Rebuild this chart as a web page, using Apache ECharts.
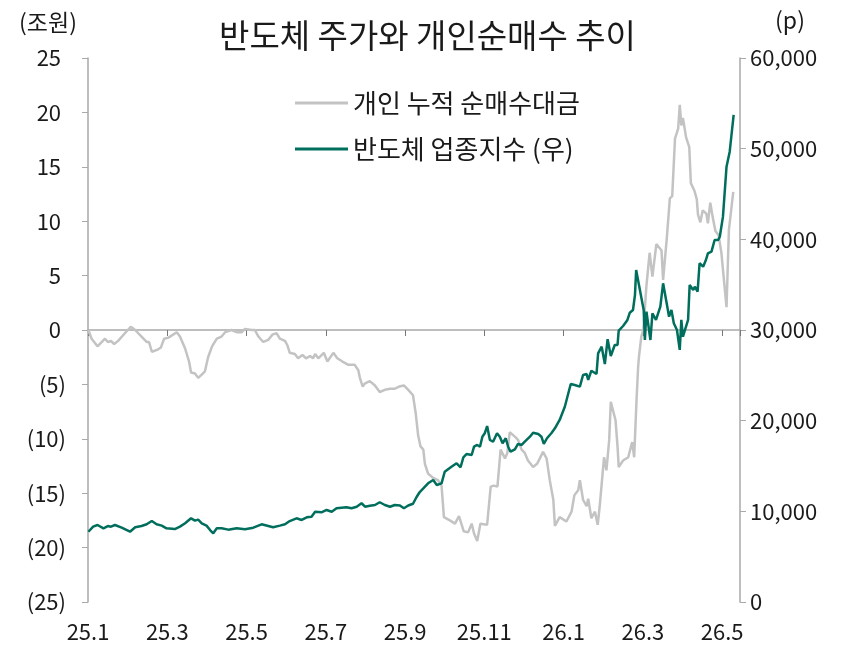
<!DOCTYPE html>
<html>
<head>
<meta charset="utf-8">
<script src="https://cdn.jsdelivr.net/npm/echarts@6/dist/echarts.min.js"></script>
<style>
  html, body { margin: 0; padding: 0; background: #fff; }
  #main { width: 855px; height: 645px; }
</style>
</head>
<body>
<div id="main"></div>
<script>
// 월 단위 위치 (0 = 25.1)
var grayMonth = [0.01, 0.09, 0.24, 0.35, 0.43, 0.50, 0.58, 0.66, 0.76, 0.93, 1.08, 1.19, 1.35, 1.48, 1.54, 1.61, 1.76, 1.84, 1.92, 2.03,
    2.24, 2.32, 2.45, 2.55, 2.60, 2.70, 2.78, 2.87, 2.95, 3.03, 3.13, 3.25, 3.37, 3.46, 3.62, 3.75, 3.88, 3.96, 4.13, 4.21,
    4.30, 4.42, 4.55, 4.66, 4.76, 4.84, 4.97, 5.03, 5.09, 5.22, 5.30, 5.41, 5.50, 5.60, 5.68, 5.73, 5.81, 5.95, 6.04, 6.19,
    6.29, 6.42, 6.57, 6.73, 6.82, 6.86, 6.93, 6.99, 7.11, 7.24, 7.36, 7.49, 7.62, 7.74, 7.85, 7.97, 8.08, 8.20, 8.27, 8.33,
    8.39, 8.46, 8.50, 8.58, 8.71, 8.83, 8.92, 8.98, 9.13, 9.26, 9.36, 9.48, 9.59, 9.68, 9.74, 9.82, 9.90, 10.07, 10.16, 10.24,
    10.33, 10.41, 10.52, 10.58, 10.64, 10.77, 10.85, 10.94, 11.02, 11.10, 11.23, 11.33, 11.40, 11.48, 11.57, 11.65, 11.74, 11.78, 11.90, 12.07,
    12.11, 12.20, 12.27, 12.37, 12.41, 12.49, 12.58, 12.62, 12.70, 12.79, 12.86, 12.91, 13.02, 13.08, 13.15, 13.19, 13.31, 13.36, 13.39, 13.50,
    13.63, 13.73, 13.78, 13.84, 13.88, 13.90, 13.96, 14.01, 14.09, 14.17, 14.24, 14.34, 14.47, 14.51, 14.60, 14.68, 14.74, 14.81, 14.89, 14.93,
    14.97, 15.01, 15.09, 15.17, 15.21, 15.30, 15.36, 15.39, 15.45, 15.51, 15.60, 15.64, 15.70, 15.76, 15.83, 15.91, 15.98, 16.11, 16.17, 16.28];
// 개인 누적 순매수대금 (조원)
var grayValue = [0.0, -0.8, -1.5, -1.1, -0.8, -1.1, -1.0, -1.3, -1.0, -0.3, 0.3, 0.0, -0.6, -1.1, -1.1, -2.0, -1.8, -1.6, -0.8, -0.7,
    -0.2, -0.6, -1.7, -2.9, -3.9, -4.0, -4.4, -4.1, -3.8, -2.5, -1.5, -0.8, -0.6, -0.2, 0.0, -0.2, -0.2, 0.1, 0.0, 0.0,
    -0.6, -1.1, -0.9, -0.4, -0.3, -0.8, -1.0, -1.4, -2.1, -2.2, -2.6, -2.3, -2.6, -2.4, -2.6, -2.2, -2.6, -2.1, -2.9, -2.1,
    -2.6, -2.9, -3.2, -3.2, -3.7, -4.4, -5.2, -4.9, -4.7, -5.1, -5.7, -5.5, -5.4, -5.4, -5.2, -5.1, -5.5, -6.0, -7.7, -9.7,
    -10.7, -11.0, -12.3, -13.2, -13.6, -13.8, -14.3, -17.2, -17.5, -17.8, -17.1, -18.5, -18.6, -17.8, -18.7, -19.4, -17.8, -17.9, -14.4, -14.3,
    -14.4, -11.0, -11.8, -11.3, -9.4, -9.8, -10.1, -11.0, -11.3, -12.0, -12.6, -12.3, -11.8, -11.2, -11.8, -13.8, -15.6, -18.0, -17.2, -17.6,
    -17.7, -16.7, -15.2, -14.7, -13.8, -15.6, -16.2, -15.5, -17.3, -16.7, -17.9, -16.2, -11.7, -12.9, -10.1, -6.6, -8.3, -10.7, -12.6, -12.0,
    -11.7, -10.3, -11.7, -6.4, -3.4, -2.5, -0.6, 0.0, 4.1, 7.1, 4.9, 7.9, 7.3, 4.6, 8.3, 12.1, 12.3, 17.6, 18.5, 20.7,
    18.8, 19.5, 17.7, 16.8, 13.5, 12.8, 12.0, 10.6, 9.9, 11.0, 10.7, 9.8, 11.7, 10.4, 9.1, 8.7, 7.1, 2.1, 9.2, 12.7];

var greenMonth = [0.01, 0.13, 0.24, 0.39, 0.50, 0.58, 0.68, 0.85, 1.06, 1.19, 1.35, 1.48, 1.61, 1.73, 1.86, 1.98, 2.19, 2.32, 2.45, 2.60,
    2.70, 2.78, 2.87, 2.99, 3.08, 3.16, 3.25, 3.37, 3.54, 3.75, 3.96, 4.17, 4.38, 4.67, 4.84, 4.97, 5.09, 5.26, 5.39, 5.52,
    5.64, 5.73, 5.89, 6.02, 6.15, 6.27, 6.52, 6.65, 6.78, 6.90, 6.99, 7.11, 7.24, 7.36, 7.49, 7.62, 7.74, 7.87, 7.97, 8.08,
    8.20, 8.29, 8.37, 8.46, 8.58, 8.71, 8.80, 8.92, 9.00, 9.17, 9.30, 9.40, 9.47, 9.55, 9.68, 9.74, 9.82, 9.89, 9.95, 10.01,
    10.07, 10.14, 10.22, 10.32, 10.39, 10.46, 10.54, 10.60, 10.66, 10.77, 10.85, 10.94, 11.02, 11.15, 11.23, 11.36, 11.44, 11.50, 11.58, 11.69,
    11.78, 11.90, 12.03, 12.14, 12.18, 12.28, 12.41, 12.49, 12.58, 12.62, 12.70, 12.83, 12.87, 12.96, 13.04, 13.11, 13.19, 13.29, 13.36, 13.39,
    13.50, 13.61, 13.67, 13.75, 13.80, 13.83, 13.92, 14.02, 14.05, 14.09, 14.19, 14.24, 14.33, 14.44, 14.51, 14.60, 14.66, 14.72, 14.78, 14.86,
    14.93, 14.97, 15.01, 15.14, 15.18, 15.27, 15.31, 15.38, 15.43, 15.52, 15.59, 15.64, 15.73, 15.81, 15.90, 15.94, 16.02, 16.11, 16.19, 16.29];
// 반도체 업종지수 (p)
var greenValue = [7750, 8310, 8490, 8130, 8380, 8310, 8490, 8200, 7750, 8240, 8380, 8570, 8930, 8570, 8420, 8130, 8050, 8310, 8680, 9230,
    8970, 9080, 8680, 8420, 7940, 7580, 8130, 8130, 7980, 8130, 8020, 8200, 8570, 8240, 8420, 8570, 8930, 9230, 9050, 9340,
    9410, 9960, 9890, 10150, 9960, 10340, 10450, 10340, 10510, 10890, 10510, 10620, 10700, 11000, 10700, 10510, 10700, 10640, 10340, 10640,
    10840, 11580, 12130, 12540, 13090, 13460, 12910, 13090, 14370, 14920, 15300, 14860, 15960, 16320, 16210, 17130, 17320, 17130, 18230, 18610,
    19410, 17870, 17680, 18610, 18230, 17510, 18060, 17130, 16580, 16840, 17430, 17320, 17680, 18230, 18670, 18530, 18230, 17430, 18060, 18610,
    19160, 20080, 21540, 23380, 24050, 23940, 23750, 25040, 25150, 24490, 25510, 25150, 27430, 28160, 26250, 28980, 27130, 28350, 28350, 29930,
    30440, 31110, 31910, 32210, 33860, 36620, 34520, 32210, 28900, 32020, 28900, 31840, 31110, 32570, 35150, 32950, 31470, 32210, 30740, 30000,
    27800, 31110, 29260, 31110, 34970, 34410, 34780, 34230, 37360, 36980, 37720, 38460, 38640, 39930, 39930, 40290, 42500, 48010, 49670, 53720];

var leftTicks = { min: -25, max: 25, step: 5 };
var rightTicks = { min: 0, max: 60000, step: 10000 };

var FONT = '"Noto Sans CJK KR", "Noto Sans", sans-serif';
var TXT = '#1a1a1a';
var AXIS = '#a9a9a9';

function pairs(xs, ys) {
    return xs.map(function (x, i) { return [x, ys[i]]; });
}

var myChart = echarts.init(document.getElementById('main'));

myChart.setOption({
    animation: false,
    textStyle: { fontFamily: FONT },
    title: {
        text: '반도체 주가와 개인순매수 추이',
        left: 'center',
        top: 14,
        textStyle: { fontFamily: FONT, fontSize: 33, fontWeight: 'normal', color: TXT }
    },
    legend: {
        orient: 'vertical',
        left: 290,
        top: 85,
        itemWidth: 53,
        itemHeight: 3,
        itemGap: 20,
        icon: 'rect',
        textStyle: { fontFamily: FONT, fontSize: 26, color: TXT },
        data: ['개인 누적 순매수대금', '반도체 업종지수 (우)']
    },
    grid: { left: 88, right: 115, top: 58, bottom: 43, containLabel: false, outerBoundsMode: 'none' },
    xAxis: {
        type: 'value',
        min: 0,
        max: 16.45,
        interval: 2,
        axisLine: { onZero: true, onZeroAxisIndex: 0, lineStyle: { color: AXIS, width: 1.5 } },
        axisTick: { show: true, length: 6, lineStyle: { color: '#777', width: 1 } },
        splitLine: { show: false },
        axisLabel: {
            margin: 19,
            fontSize: 22,
            color: TXT,
            fontFamily: FONT,
            formatter: function (m) {
                if (Math.abs(m - Math.round(m)) > 1e-6) return '';
                var y = 25 + Math.floor(m / 12);
                var mo = (m % 12) + 1;
                return y + '.' + mo;
            }
        }
    },
    yAxis: [
        {
            type: 'value',
            min: leftTicks.min,
            max: leftTicks.max,
            interval: leftTicks.step,
            position: 'left',
            name: '(조원)',
            nameLocation: 'end',
            nameGap: 24,
            nameTextStyle: { fontFamily: FONT, fontSize: 23, color: TXT, align: 'center', padding: [0, 80, 0, 0] },
            axisLine: { show: true, lineStyle: { color: AXIS, width: 1.5 } },
            axisTick: { show: true, length: 6, lineStyle: { color: AXIS } },
            splitLine: { show: false },
            axisLabel: {
                margin: 22,
                fontSize: 22,
                color: TXT,
                fontFamily: FONT,
                formatter: function (v) { return v < 0 ? '(' + (-v) + ')' : v + ' '; }
            }
        },
        {
            type: 'value',
            min: rightTicks.min,
            max: rightTicks.max,
            interval: rightTicks.step,
            position: 'right',
            name: '(p)',
            nameLocation: 'end',
            nameGap: 26,
            nameTextStyle: { fontFamily: FONT, fontSize: 23, color: TXT, align: 'center', padding: [0, 0, 0, 100] },
            axisLine: { show: true, lineStyle: { color: AXIS, width: 1.5 } },
            axisTick: { show: true, length: 6, lineStyle: { color: AXIS } },
            splitLine: { show: false },
            axisLabel: {
                margin: 10,
                fontSize: 22,
                color: TXT,
                fontFamily: FONT,
                formatter: function (v) { return v.toLocaleString('en-US'); }
            }
        }
    ],
    series: [
        {
            name: '개인 누적 순매수대금',
            type: 'line',
            yAxisIndex: 0,
            showSymbol: false,
            symbol: 'none',
            lineStyle: { color: '#c3c3c3', width: 2.5 },
            itemStyle: { color: '#c3c3c3' },
            data: pairs(grayMonth, grayValue)
        },
        {
            name: '반도체 업종지수 (우)',
            type: 'line',
            yAxisIndex: 1,
            showSymbol: false,
            symbol: 'none',
            lineStyle: { color: '#006e5c', width: 2.5 },
            itemStyle: { color: '#006e5c' },
            data: pairs(greenMonth, greenValue)
        }
    ]
});

window.onresize = myChart.resize;
</script>
</body>
</html>
